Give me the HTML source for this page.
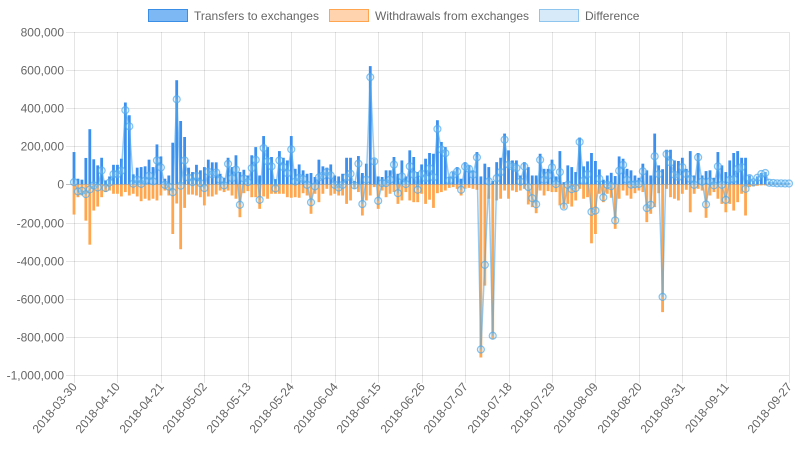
<!DOCTYPE html>
<html><head><meta charset="utf-8"><style>
html,body{margin:0;padding:0;background:#fff;}
svg{display:block;font-family:"Liberation Sans",Arial,sans-serif;}
</style></head><body>
<svg id="chart" width="798" height="450" viewBox="0 0 798 450" xmlns="http://www.w3.org/2000/svg">
  <g font-size="12" fill="#666">
    <g>
      <rect x="148.5" y="9.5" width="39" height="12" fill="#7db8f5" stroke="#3a8ee6" stroke-width="1"/>
      <text x="194" y="20">Transfers to exchanges</text>
    </g>
    <g>
      <rect x="329.5" y="9.5" width="39" height="12" fill="#ffd3ad" stroke="#ffa54f" stroke-width="1"/>
      <text x="375" y="20">Withdrawals from exchanges</text>
    </g>
    <g>
      <rect x="539.5" y="9.5" width="39" height="12" fill="#d6eafa" stroke="#8ec5ee" stroke-width="1"/>
      <text x="585" y="20">Difference</text>
    </g>
  </g>
  <g id="grid"></g>
  <g id="bars"></g>
  <g id="line"></g>
  <g id="axes"></g>
</svg>
<script>
const yTicks = [800000,600000,400000,200000,0,-200000,-400000,-600000,-800000,-1000000];
const startDate = "2018-03-30";
const transfers = [170,30,25,139,290,132,100,140,21,42,103,103,135,430,363,53,88,91,95,130,91,210,147,30,47,219,547,333,249,88,65,
103,74,91,130,116,116,56,35,140,91,153,65,77,47,153,196,47,254,196,144,28,175,140,126,254,82,105,74,56,60,
39,130,95,88,105,47,42,56,140,140,18,149,60,109,621,135,42,39,74,74,144,56,126,42,179,144,65,105,135,165,
161,337,223,196,39,65,91,30,117,100,74,170,42,109,91,18,117,140,267,179,126,126,47,117,91,47,47,161,82,82,
130,42,175,12,100,91,65,246,95,121,165,123,79,25,47,61,44,147,135,82,74,47,35,109,74,47,267,100,80,182,
182,126,123,140,82,175,47,165,47,70,74,35,170,100,65,126,165,175,140,140,47,21,42,60,65,12,10,8,8,6,6];
const withdrawals = [-158,-67,-58,-190,-316,-137,-116,-67,-40,-32,-49,-49,-63,-40,-58,-49,-63,-88,-75,-84,-75,-84,-58,-32,-58,-260,-100,-340,-123,-53,-53,
-58,-67,-110,-63,-63,-53,-32,-40,-32,-58,-75,-172,-46,-35,-67,-67,-128,-63,-75,-49,-49,-49,-49,-67,-70,-67,-70,-46,-58,-154,
-49,-93,-49,-23,-58,-49,-58,-58,-102,-84,-23,-40,-163,-84,-58,-14,-128,-32,-67,-49,-40,-102,-84,-40,-84,-93,-93,-49,-102,-80,
-123,-46,-40,-32,-18,-14,-23,-58,-23,-18,-23,-28,-908,-531,-75,-812,-84,-75,-32,-75,-32,-40,-32,-23,-105,-119,-151,-32,-58,-35,
-40,-40,-110,-128,-102,-116,-84,-23,-75,-67,-309,-260,-49,-93,-49,-70,-233,-75,-32,-58,-75,-46,-32,-40,-198,-154,-119,-46,-670,-23,
-67,-75,-84,-49,-28,-146,-49,-23,-32,-175,-58,-40,-75,-102,-146,-102,-137,-93,-49,-163,-14,-10,-7,-5,-5,-3,-2,-2,-2,-1,-1];

const NS="http://www.w3.org/2000/svg";
const L=74,R=789,T=32,B=375;
const n=transfers.length;
const xs=i=>L+(R-L)*i/(n-1);
const ys=v=>T+(800000-v)/1800000*(B-T);
function mk(tag,attrs,parent){const e=document.createElementNS(NS,tag);for(const k in attrs)e.setAttribute(k,attrs[k]);parent.appendChild(e);return e;}
const grid=document.getElementById('grid'),bars=document.getElementById('bars'),line=document.getElementById('line'),axes=document.getElementById('axes');
function fmt(v){return v.toLocaleString('en-US');}
function dateStr(i){const d=new Date(startDate+"T00:00:00Z");d.setUTCDate(d.getUTCDate()+i);return d.toISOString().slice(0,10);}

yTicks.forEach(v=>{
  const y=Math.round(ys(v))+0.5;
  const g=mk('line',{x1:L-8,x2:R,y1:y,y2:y,stroke:v===0?'rgba(0,0,0,0.25)':'rgba(0,0,0,0.1)','stroke-width':1},grid);
  
  
  const t=mk('text',{x:L-10,y:y+4,'text-anchor':'end','font-size':12,fill:'#666'},axes);
  t.textContent=fmt(v);
  
  
});
const xTickIdx=[];
for(let i=0;i<n-11;i+=11)xTickIdx.push(i);
xTickIdx.push(n-1);
xTickIdx.forEach(i=>{
  const x=Math.round(xs(i))+0.5;
  const g=mk('line',{x1:x,x2:x,y1:T,y2:B+8,stroke:'rgba(0,0,0,0.1)','stroke-width':1},grid);
  
  
  const t=mk('text',{x:x+3,y:B+12,'text-anchor':'end','font-size':12,fill:'#666',transform:`rotate(-50 ${x+3} ${B+12})`},axes);
  t.textContent=dateStr(i);
  
  
});
const bw=2.8;
for(let i=0;i<n;i++){
  const x=xs(i)-bw/2;
  const vt=transfers[i]*1000,vw=withdrawals[i]*1000;
  const b1=mk('rect',{x:x,y:ys(vt),width:bw,height:ys(0)-ys(vt),fill:'#3b8fee'},bars);
  
  
  const b2=mk('rect',{x:x,y:ys(0),width:bw,height:ys(vw)-ys(0),fill:'#ffa64f'},bars);
  
  
}
let d='';
const pts=[];
for(let i=0;i<n;i++){const v=(transfers[i]+withdrawals[i])*1000;const x=xs(i),y=ys(v);pts.push([x,y]);d+=(i?'L':'M')+x.toFixed(1)+' '+y.toFixed(1);}
const p=mk('path',{d:d,fill:'none',stroke:'rgba(80,170,235,0.6)','stroke-width':1.5},line);


pts.forEach(([x,y])=>{
  const c=mk('circle',{cx:x,cy:y,r:3.5,fill:'rgba(160,210,245,0.25)',stroke:'rgba(80,170,235,0.7)','stroke-width':1.2},line);
  
  
});
</script>
</body></html>
